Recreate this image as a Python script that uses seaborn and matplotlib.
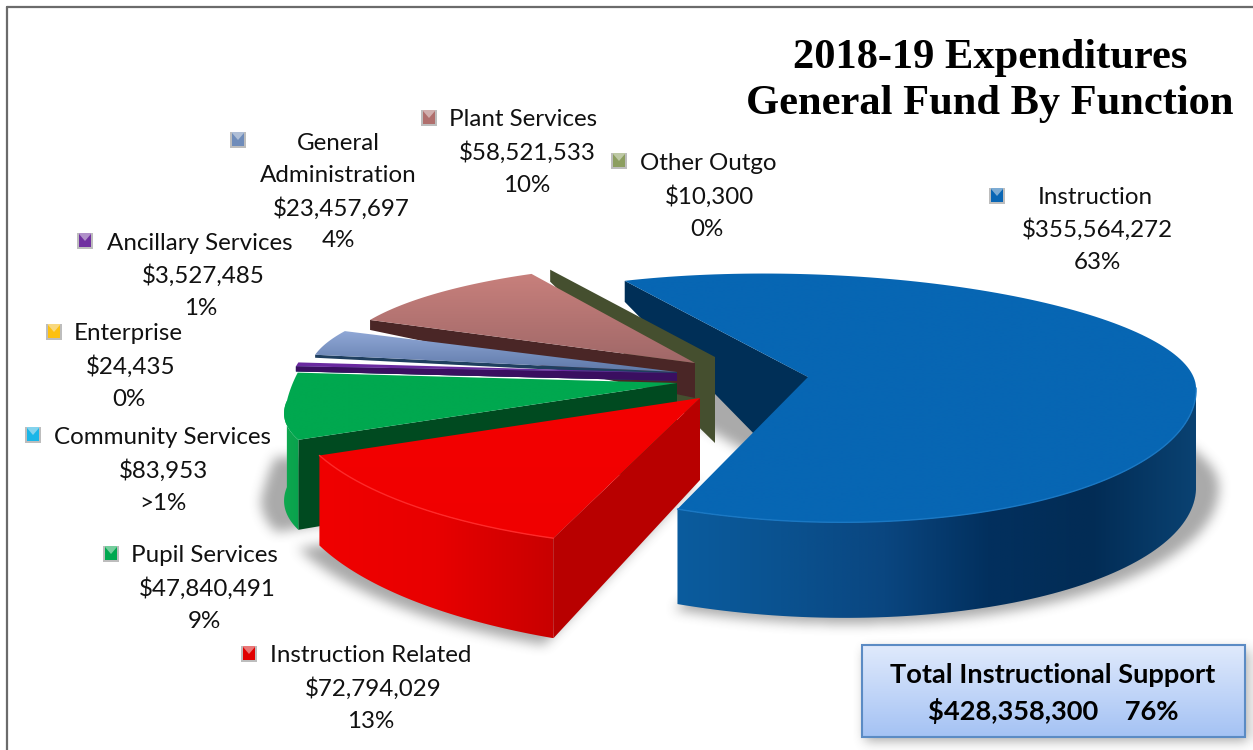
import numpy as np
import pandas as pd
import seaborn as sns
import matplotlib
matplotlib.use('Agg')
import matplotlib.pyplot as plt
from matplotlib.path import Path
from matplotlib.patches import Polygon, Rectangle

functions = ['Instruction', 'Instruction Related', 'Pupil Services', 'Community Services',
             'Enterprise', 'Ancillary Services', 'General Administration', 'Plant Services', 'Other Outgo']
amounts = [355564272, 72794029, 47840491, 83953, 24435, 3527485, 23457697, 58521533, 10300]
amount_text = ['$355,564,272', '$72,794,029', '$47,840,491', '$83,953', '$24,435',
               '$3,527,485', '$23,457,697', '$58,521,533', '$10,300']
percent_text = ['63%', '13%', '9%', '>1%', '0%', '1%', '4%', '10%', '0%']
total_lines = ['Total Instructional Support', '$428,358,300    76%']
title_lines = ['2018-19 Expenditures', 'General Fund By Function']

# colours
top_colors = [['#0766b3', '#0766b3'], ['#f40000', '#f00000'], ['#00a84f', '#00a84f'], ['#1ab6e8', '#1ab6e8'],
              ['#fdc010', '#fdc010'], ['#6a2aa0', '#6a2aa0'], ['#90a8d6', '#5e78a8'], ['#c8807c', '#a06868'],
              ['#8c9e60', '#8c9e60']]
wall_colors = ['#002f57', '#b80000', '#004a20', '#1f3f5f', '#1f3f5f', '#3a0f60', '#1f3f5f', '#4a2626', '#454f2f']
rim_colors = [['#0b5c9e', '#0a5290', '#0a4680', '#02305e', '#022c55', '#0a4272'],
              ['#f00000', '#e80000', '#c80000'], ['#0ea84f', '#09a24d'], ['#1f3f5f'] * 2, ['#1f3f5f'] * 2,
              ['#3a0f60'] * 2, ['#1f3f5f'] * 2, ['#4a2626'] * 2, ['#454f2f'] * 2]
key_colors = ['#0a66b4', '#e00000', '#00a84f', '#1ab6e8', '#fdc010', '#7030a0', '#6f8cba', '#b06f6d', '#8c9e60']

# how each exploded slice sits on the page
apex_x = [808, 700, 677, 677, 677, 677, 677, 695, 715]
apex_y = [377, 398, 383, 373, 373, 373, 372, 363, 357]
radius_x = [388, 412, 390, 385, 385, 385, 368, 360, 363]
radius_top = [103, 100, 196, 100, 100, 100, 95, 100, 98]
radius_bottom = [145, 150, 106, 100, 100, 100, 95, 100, 98]
skew_y = [0.025, 0, -0.045, -0.02, -0.02, -0.02, 0, 0, 0]
shift_x = [-8, 0, 48, 0, 0, 0, 0, 0, 0]
corner_h = [21, 100, 90, 5, 5, 5, 3, 10, 12]
apex_h = [112, 82, 82, 8, 8, 8, 4, 35, 86]
rim_h_start = [100, 100, 90, 5, 5, 5, 3, 10, 12]
rim_h_end = [95, 90, 85, 5, 5, 5, 3, 10, 12]
draw_order = [0, 8, 7, 6, 3, 4, 5, 2, 1]

# label layout: x of each line, y of first line, key position
label_x = [[1095, 1097, 1097], [371, 373, 371], [204, 207, 204], [163, 163, 163], [128, 131, 129],
           [200, 203, 201], [338, 338, 341, 338], [523, 527, 527], [708, 710, 707]]
label_y = [197, 656, 556, 438, 334, 243, 143, 120, 164]
key_xy = [(997, 196), (249, 654), (111, 554), (33, 435), (54, 332), (85, 241), (238, 140), (429, 118), (619, 161)]

df = pd.DataFrame({'function': functions, 'amount': amounts})
df['sweep'] = df['amount'] / df['amount'].sum() * 360
df['theta_start'] = 117 - df['sweep'].cumsum().shift(fill_value=0)
df['theta_end'] = df['theta_start'] - df['sweep']


def project(i, theta):
    t = np.radians(theta)
    u, v = np.cos(t), np.sin(t)
    dx = radius_x[i] * u
    ry = np.where(v > 0, radius_top[i], radius_bottom[i])
    x = apex_x[i] + dx + shift_x[i] * v
    y = apex_y[i] - ry * v + skew_y[i] * dx
    return x, y


def gradient_fill(ax, pts, colors, vertical, z):
    pts = np.asarray(pts)
    cmap = sns.blend_palette(colors, as_cmap=True)
    x0, y0 = pts.min(axis=0)
    x1, y1 = pts.max(axis=0)
    grad = np.linspace(0, 1, 256).reshape(-1, 1) if vertical else np.linspace(0, 1, 256).reshape(1, -1)
    im = ax.imshow(grad, extent=(x0, x1, y1, y0), cmap=cmap, aspect='auto', zorder=z, vmin=0, vmax=1,
                   interpolation='bilinear')
    im.set_clip_path(Polygon(pts, closed=True, transform=ax.transData))


def box_blur(a, r):
    for axis in (0, 1):
        pad = [(0, 0), (0, 0)]
        pad[axis] = (r + 1, r)
        c = np.cumsum(np.pad(a, pad, mode='edge'), axis=axis)
        a = (np.take(c, range(2 * r + 1, c.shape[axis]), axis=axis)
             - np.take(c, range(0, c.shape[axis] - 2 * r - 1), axis=axis)) / (2 * r + 1)
    return a


sns.set_theme(style='white')
plt.rcParams['font.family'] = ['Lato', 'DejaVu Sans']

fig = plt.figure(figsize=(12.53, 7.5), dpi=100)
ax = fig.add_axes([0, 0, 1, 1])
W, H = 1253, 750

# soft shadow under the pie and the box
gx, gy = np.meshgrid(np.arange(W) + 0.5, np.arange(H) + 0.5)
grid = np.column_stack([gx.ravel(), gy.ravel()])
mask = np.zeros(W * H, dtype=bool)
for i in [0, 1, 2]:
    th = np.linspace(df.theta_start[i], df.theta_end[i], 120)
    xs, ys = project(i, th)
    h = np.linspace(rim_h_start[i], rim_h_end[i], 120)
    sx = 740 + (np.r_[apex_x[i], xs] - 740) * 1.05
    sy = 470 + (np.r_[apex_y[i] + apex_h[i], ys + h] - 470) * 1.04
    mask |= Path(np.column_stack([sx, sy])).contains_points(grid)
mask = mask.reshape(H, W).astype(float)
mask[650:741, 865:1248] = 1
blur = box_blur(box_blur(box_blur(mask, 6), 5), 4)
shade = np.zeros((H, W, 4))
shade[..., :3] = 0.33
shade[..., 3] = blur * 0.5
ax.imshow(shade, extent=(0, W, H, 0), aspect='auto', zorder=1)

z = 2
for i in draw_order:
    th = np.linspace(df.theta_start[i], df.theta_end[i], 160)
    xs, ys = project(i, th)
    ax_, ay_ = apex_x[i], apex_y[i]

    # radial wall on the leading edge
    ax.add_patch(Polygon([(xs[0], ys[0]), (ax_, ay_), (ax_, ay_ + apex_h[i]), (xs[0], ys[0] + corner_h[i])],
                         closed=True, facecolor=wall_colors[i], edgecolor='none', zorder=z))
    z += 1

    # outer wall, only the part that faces the viewer
    h = np.linspace(rim_h_start[i], rim_h_end[i], len(th))
    front = np.sin(np.radians(th)) <= 0
    if front.sum() > 1:
        rim = np.r_[np.column_stack([xs[front], ys[front]]),
                    np.column_stack([xs[front], ys[front] + h[front]])[::-1]]
        gradient_fill(ax, rim, rim_colors[i], False, z)
        z += 1

    # top face
    top = np.r_[[(ax_, ay_)], np.column_stack([xs, ys])]
    if i != 8:
        gradient_fill(ax, top, top_colors[i], True, z)
        z += 1
    if i in (0, 1):
        ax.plot(xs[front], ys[front], color='#1a78c4' if i == 0 else '#ff2a2a', lw=1, zorder=z)
        z += 1

# frame, left and top only
ax.plot([7, 7], [750, 7], color='#6b6b6b', lw=1.6, zorder=z)
ax.plot([7, 1253], [7, 7], color='#6b6b6b', lw=1.6, zorder=z)
z += 1

# labels with their bevelled keys
for i, name in enumerate(functions):
    if name == 'General Administration':
        lines = ['General', 'Administration', amount_text[i], percent_text[i]]
    else:
        lines = [name, amount_text[i], percent_text[i]]
    for j, line in enumerate(lines):
        ax.text(label_x[i][j], label_y[i] + j * 32.6, line, ha='center', va='center', fontsize=17.4,
                color='#111111', zorder=z)
    kx, ky = key_xy[i]
    s = 8
    ax.add_patch(Rectangle((kx - s, ky - s), 2 * s, 2 * s, facecolor='#bdbdbd', edgecolor='none', zorder=z))
    ax.add_patch(Rectangle((kx - s + 2, ky - s), 2 * s - 4, 2 * s - 2,
                           facecolor=sns.light_palette(key_colors[i], 5)[2], edgecolor='none', zorder=z))
    ax.add_patch(Polygon([(kx - s + 2, ky - s + 1), (kx, ky), (kx + s - 2, ky - s + 1), (kx + s - 2, ky + s - 2),
                          (kx - s + 2, ky + s - 2)], closed=True, facecolor=key_colors[i], edgecolor='none', zorder=z))

# title
for j, line in enumerate(title_lines):
    ax.text(990, 58 + j * 46, line, ha='center', va='center', fontsize=30.6, fontweight='bold',
            family='Liberation Serif', color='black', zorder=z)

# total box
box = [(862, 645), (1245, 645), (1245, 737), (862, 737)]
gradient_fill(ax, box, ['#e0eafc', '#a4c2f4'], True, z)
ax.add_patch(Polygon(box, closed=True, facecolor='none', edgecolor='#5b8bc4', lw=1.5, zorder=z + 1))
for j, line in enumerate(total_lines):
    ax.text(1053, 675 + j * 36, line, ha='center', va='center', fontsize=19.6, fontweight='bold',
            color='black', zorder=z + 1)

ax.set_xlim(0, W)
ax.set_ylim(H, 0)
ax.axis('off')
sns.despine(ax=ax, left=True, bottom=True)
fig.savefig('out.png', dpi=100, facecolor='white')
plt.close(fig)
